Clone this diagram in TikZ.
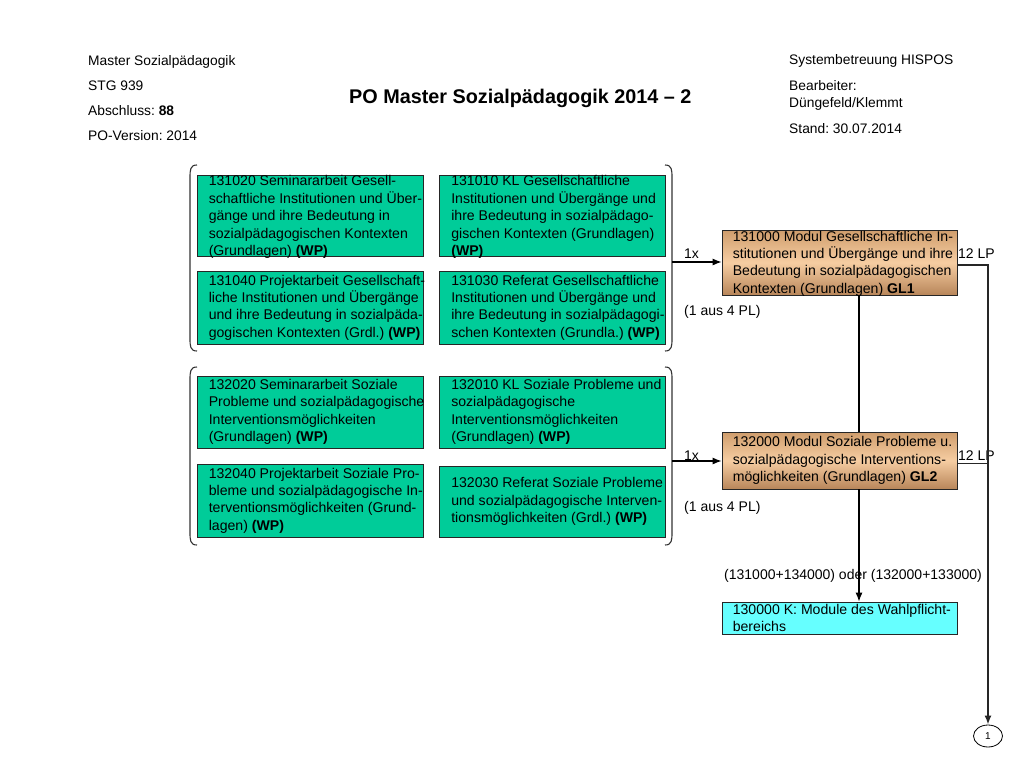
\documentclass[tikz,border=0pt]{standalone}
\usepackage{fontspec}
\setmainfont{Liberation Sans}
\usetikzlibrary{arrows.meta,shapes.geometric}
\definecolor{gfill}{HTML}{00CC99}
\definecolor{cfill}{HTML}{66FFFF}
\definecolor{brtop}{HTML}{CF9D6C}
\definecolor{brmid}{HTML}{F6CDA2}
\definecolor{brbot}{HTML}{B8865A}
\frenchspacing
\begin{document}
\begin{tikzpicture}[x=1pt,y=-1pt,
  box/.style={draw=black!85, line width=0.8pt, inner sep=0pt},
  gbox/.style={box, fill=gfill, minimum width=226pt},
  mbox/.style={box, top color=brtop, bottom color=brbot, middle color=brmid, minimum width=235pt},
  kbox/.style={box, fill=cfill, minimum width=235pt, minimum height=32pt},
  txt/.style={font=\fontsize{14.1}{17.4}\selectfont, align=left, inner sep=0pt, anchor=west},
  lbl/.style={font=\fontsize{14}{17}\selectfont, inner sep=0pt, anchor=base west},
  hdr/.style={font=\fontsize{13.8}{17}\selectfont, inner sep=0pt, anchor=base west},
  brk/.style={line width=1.1pt, black!80},
  ln/.style={line width=1.1pt, black},
  conn/.style={ln, -{Latex[length=9pt,width=7pt]}},
  thk/.style={line width=1.7pt, black!85},
  circ/.style={draw=black, line width=0.8pt, ellipse, minimum width=29pt, minimum height=22pt, inner sep=0pt, font=\fontsize{10}{12}\selectfont}]
\fill[white] (0,0) rectangle (1024,768);
\useasboundingbox (0,0) rectangle (1024,768);

% header
\node[hdr] (h1) at (88,65) {Master Sozialpädagogik};
\node[hdr] (h2) at (88,90) {STG 939};
\node[hdr] (h3) at (88,115) {Abschluss: \textbf{88}};
\node[hdr] (h4) at (88,140) {PO-Version: 2014};
\node[font=\fontsize{19.8}{22}\selectfont\bfseries, inner sep=0pt, anchor=base west] (title) at (349,103) {PO Master Sozialpädagogik 2014 – 2};
\node[hdr] (r1) at (789,64) {Systembetreuung HISPOS};
\node[hdr] (r2) at (789,90) {Bearbeiter:};
\node[hdr] (r3) at (789,107) {Düngefeld/Klemmt};
\node[hdr] (r4) at (789,133) {Stand: 30.07.2014};

% group 1 boxes
\node[gbox, minimum height=81pt] (a1) at (310,215.5) {};
\node[txt] (a1t) at ([xshift=12pt,yshift=-1.5pt]a1.west) {131020 Seminararbeit Gesell-\\schaftliche Institutionen und Über-\\gänge und ihre Bedeutung in\\sozialpädagogischen Kontexten\\(Grundlagen) \textbf{(WP)}};
\node[gbox, minimum height=81pt] (b1) at (552.5,215.5) {};
\node[txt] (b1t) at ([xshift=12pt,yshift=-1.5pt]b1.west) {131010 KL Gesellschaftliche\\Institutionen und Übergänge und\\ihre Bedeutung in sozialpädago-\\gischen Kontexten (Grundlagen)\\\textbf{(WP)}};
\node[gbox, minimum height=73pt] (a2) at (310,307.5) {};
\node[txt] (a2t) at ([xshift=12pt]a2.west) {131040 Projektarbeit Gesellschaft-\\liche Institutionen und Übergänge\\und ihre Bedeutung in sozialpäda-\\gogischen Kontexten (Grdl.) \textbf{(WP)}};
\node[gbox, minimum height=73pt] (b2) at (552.5,307.5) {};
\node[txt] (b2t) at ([xshift=12pt]b2.west) {131030 Referat Gesellschaftliche\\Institutionen und Übergänge und\\ihre Bedeutung in sozialpädagogi-\\schen Kontexten (Grundla.) \textbf{(WP)}};

% group 2 boxes
\node[gbox, minimum height=72pt] (a3) at (310,412) {};
\node[txt] (a3t) at ([xshift=12pt]a3.west) {132020 Seminararbeit Soziale\\Probleme und sozialpädagogische\\Interventionsmöglichkeiten\\(Grundlagen) \textbf{(WP)}};
\node[gbox, minimum height=72pt] (b3) at (552.5,412) {};
\node[txt] (b3t) at ([xshift=12pt]b3.west) {132010 KL Soziale Probleme und\\sozialpädagogische\\Interventionsmöglichkeiten\\(Grundlagen) \textbf{(WP)}};
\node[gbox, minimum height=73pt] (a4) at (310,500.5) {};
\node[txt] (a4t) at ([xshift=12pt]a4.west) {132040 Projektarbeit Soziale Pro-\\bleme und sozialpädagogische In-\\terventionsmöglichkeiten (Grund-\\lagen) \textbf{(WP)}};
\node[gbox, minimum height=71pt] (b4) at (552.5,501.5) {};
\node[txt] (b4t) at ([xshift=12pt]b4.west) {132030 Referat Soziale Probleme\\und sozialpädagogische Interven-\\tionsmöglichkeiten (Grdl.) \textbf{(WP)}};

% brackets
\draw[brk] (197,165) .. controls (190,165) and (190,170) .. (190,178) -- (190,338) .. controls (190,346) and (190,351) .. (197,351);
\draw[brk] (665,165) .. controls (672,165) and (672,170) .. (672,178) -- (672,338) .. controls (672,346) and (672,351) .. (665,351);
\draw[brk] (197,367) .. controls (190,367) and (190,372) .. (190,380) -- (190,532) .. controls (190,540) and (190,545) .. (197,545);
\draw[brk] (665,367) .. controls (672,367) and (672,372) .. (672,380) -- (672,532) .. controls (672,540) and (672,545) .. (665,545);
\coordinate (br1) at (672,262);
\coordinate (br2) at (672,461);

% module boxes
\node[mbox, minimum height=65pt] (gl1) at (839.5,262.5) {};
\node[txt] (gl1t) at ([xshift=11pt,yshift=-1pt]gl1.west) {131000 Modul Gesellschaftliche In-\\stitutionen und Übergänge und ihre\\Bedeutung in sozialpädagogischen\\Kontexten (Grundlagen) \textbf{GL1}};
\node[mbox, minimum height=57pt] (gl2) at (839.5,460.5) {};
\node[txt] (gl2t) at ([xshift=11pt]gl2.west) {132000 Modul Soziale Probleme u.\\sozialpädagogische Interventions-\\möglichkeiten (Grundlagen) \textbf{GL2}};
\node[kbox] (k) at (839.5,618) {};
\node[txt] (kt) at ([xshift=11pt]k.west) {130000 K: Module des Wahlpflicht-\\bereichs};
\node[circ] (c1) at (988,736) {1};

% labels
\node[lbl] (l1) at (684,258) {1x};
\node[lbl] (l2) at (684,315) {(1 aus 4 PL)};
\node[lbl] (l3) at (958,258) {12 LP};
\node[lbl] (l4) at (684,460) {1x};
\node[lbl] (l5) at (684,511) {(1 aus 4 PL)};
\node[lbl] (l6) at (958,460) {12 LP};
\node[lbl] (l7) at (724,579) {(131000+134000) oder (132000+133000)};

% connectors
\draw[conn] (br1) -- (br1 -| gl1.west);
\draw[conn] (br2) -- (br2 -| gl2.west);
\coordinate (xv) at (859,0);
\draw[ln] (gl1.south -| xv) -- (gl2.north -| xv);
\draw[conn] (gl2.south -| xv) -- (k.north -| xv);
\draw[thk, -{Latex[length=9pt,width=7pt]}] ([yshift=-2.5pt]gl1.east) -| (c1.north);
\draw[thk] ([yshift=-3pt]gl2.east) -- ([yshift=-3pt]gl2.east -| c1.north);
\end{tikzpicture}
\end{document}
